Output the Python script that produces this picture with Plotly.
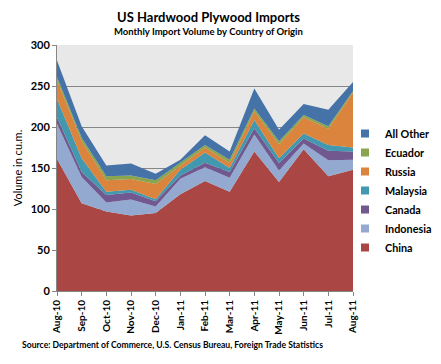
import plotly.graph_objects as go

months = ["Aug-10", "Sep-10", "Oct-10", "Nov-10", "Dec-10", "Jan-11", "Feb-11",
          "Mar-11", "Apr-11", "May-11", "Jun-11", "Jul-11", "Aug-11"]

china = [161, 107, 97, 92, 95, 118, 134, 121, 170, 133, 173, 140, 148]
indonesia = [43, 32, 11, 19.5, 8, 19, 17, 17, 21, 14, 7, 19.5, 12]
canada = [8, 6, 9, 8.5, 6.5, 4, 5.5, 7, 7.5, 9, 6, 11.5, 10]
malaysia = [22, 17, 4, 3.5, 2.5, 7, 12.5, 5, 10, 6, 6, 7, 5]
russia = [23, 21, 14, 13, 18.5, 5, 6, 6, 10.5, 17, 20, 20, 67]
ecuador = [4, 4, 5, 4.5, 4.5, 3, 3, 4, 3.5, 3.5, 2.5, 3, 2]
all_other = [20, 14, 13, 14.5, 8, 4, 12, 10, 24.5, 14, 13.5, 20, 11]

series = [
    ("China", china, "#AA4643"),
    ("Indonesia", indonesia, "#93A9CF"),
    ("Canada", canada, "#71588F"),
    ("Malaysia", malaysia, "#4198AF"),
    ("Russia", russia, "#DB843D"),
    ("Ecuador", ecuador, "#89A54E"),
    ("All Other", all_other, "#4572A7"),
]

FONT = "Lato"
OFF = 8  # page body margin in the browser
W, H = 441 - OFF, 364 - OFF
# target screen positions of the plot area
SL, SR, ST, SB = 57, 353, 45, 291
ML, MT = SL - OFF, ST - OFF
MR = W - (SR - OFF)
MB = H - (SB - OFF)


def cx(x):  # screen x -> container fraction
    return (x - OFF) / W


def cy(y):  # screen y -> container fraction
    return 1 - (y - OFF) / H


fig = go.Figure()
for name, vals, col in series:
    fig.add_trace(go.Scatter(
        x=months, y=vals, name=name, mode="lines",
        stackgroup="one", line=dict(width=0, color=col),
        fillcolor=col, legendgroup=name, showlegend=False,
    ))
# legend entries (square swatches like the reference)
for name, vals, col in series:
    fig.add_trace(go.Scatter(
        x=[None], y=[None], name=name, mode="markers",
        marker=dict(symbol="square", size=8, color=col),
        legendgroup=name, showlegend=True,
    ))

fig.update_layout(
    width=W, height=H,
    margin=dict(l=ML, r=MR, t=MT, b=MB, autoexpand=False),
    paper_bgcolor="white",
    plot_bgcolor="#E8E8E8",
    font=dict(family=FONT, color="black"),
    showlegend=True,
    legend=dict(
        xref="container", yref="container",
        x=cx(345), y=cy(119), xanchor="left", yanchor="top",
        traceorder="reversed",
        font=dict(family=FONT, size=10.8, color="black", weight="bold"),
        bgcolor="rgba(0,0,0,0)", tracegroupgap=0,
        itemwidth=30,
    ),
)

fig.add_annotation(text="<b>US Hardwood Plywood Imports</b>", x=cx(208), y=cy(17),
                   xref="paper", yref="paper", showarrow=False, xanchor="center", yanchor="middle",
                   font=dict(family=FONT, size=13, color="black"))
fig.add_annotation(text="<b>Monthly Import Volume by Country of Origin</b>", x=cx(208), y=cy(31),
                   xref="paper", yref="paper", showarrow=False, xanchor="center", yanchor="middle",
                   font=dict(family=FONT, size=9.5, color="black"))
fig.add_annotation(text="<b>Source: Department of Commerce, U.S. Census Bureau, Foreign Trade Statistics</b>",
                   x=cx(20), y=cy(345), xref="paper", yref="paper", showarrow=False,
                   xanchor="left", yanchor="middle",
                   font=dict(family=FONT, size=8.6, color="black"))

# convert annotation positions from container fractions to paper fractions
pw = W - ML - MR
ph = H - MT - MB
for a in fig.layout.annotations:
    a.x = (a.x * W - ML) / pw
    a.y = (a.y * H - MB) / ph

fig.update_xaxes(
    type="category", range=[0, 12], automargin=False,
    tickangle=-90, ticks="outside", ticklen=4, tickcolor="#868686",
    showline=True, linecolor="#868686", linewidth=1,
    showgrid=False, zeroline=False,
    tickfont=dict(family=FONT, size=10, color="black", weight="bold"),
)
fig.update_yaxes(
    range=[0, 300], dtick=50, tick0=0, automargin=False,
    ticks="outside", ticklen=4, tickcolor="#868686",
    showline=True, linecolor="#868686", linewidth=1,
    showgrid=True, gridcolor="#868686", gridwidth=1,
    zeroline=False,
    tickfont=dict(family=FONT, size=11, color="black", weight="bold"),
    title=dict(text="Volume in cu.m.", standoff=5,
               font=dict(family=FONT, size=11, color="black")),
)

fig.write_html("out.html")
